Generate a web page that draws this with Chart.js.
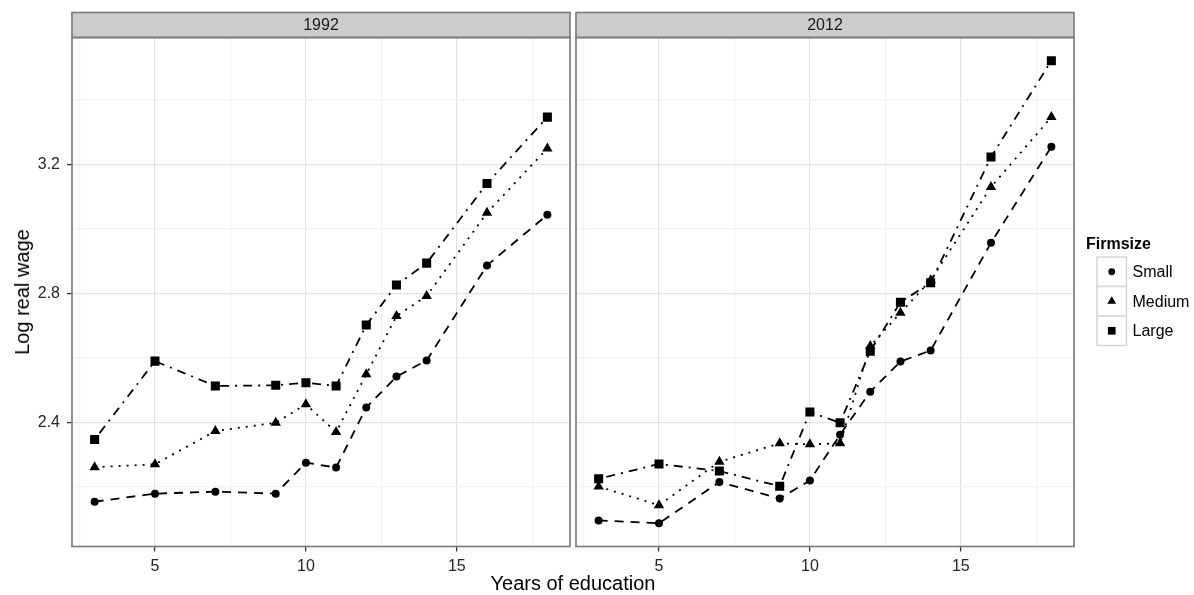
<!DOCTYPE html>
<html lang="en">
<head>
  <meta charset="UTF-8">
  <title>Log real wage by years of education</title>
  <script src="https://cdn.jsdelivr.net/npm/chart.js@4.4.1/dist/chart.umd.min.js"></script>
  <style>
    html, body {
      margin: 0;
      padding: 0;
      background: #fff;
    }

    body {
      position: relative;
      width: 1194px;
      height: 595px;
      overflow: hidden;
      font-family: 'Liberation Sans', Arial, sans-serif;
    }

    .panel {
      position: absolute;
      top: 0;
      height: 595px;
    }

    #panel1992 { left: 0; width: 572px; }
    #panel2012 { left: 574px; width: 620px; }

    .axis-title {
      position: absolute;
      font-size: 20px;
      line-height: 20px;
      color: #000;
      white-space: nowrap;
    }

    #xTitle {
      left: 0;
      width: 1146px;
      top: 573px;
      text-align: center;
    }

    #yTitle {
      left: 22px;
      top: 292px;
      transform: translate(-50%, -50%) rotate(-90deg);
    }
  </style>
</head>
<body>
<div class="panel" id="panel1992"><canvas id="chart1992"></canvas></div>
<div class="panel" id="panel2012"><canvas id="chart2012"></canvas></div>
<div class="axis-title" id="xTitle">Years of education</div>
<div class="axis-title" id="yTitle">Log real wage</div>

<script>
  // years of education on the x axis
  const years = [3, 5, 7, 9, 10, 11, 12, 13, 14, 16, 18];

  // log real wage by firm size, 1992
  const small1992  = [2.154, 2.179, 2.185, 2.179, 2.275, 2.260, 2.446, 2.542, 2.592, 2.887, 3.044];
  const medium1992 = [2.261, 2.270, 2.373, 2.399, 2.456, 2.370, 2.549, 2.730, 2.792, 3.050, 3.250];
  const large1992  = [2.347, 2.590, 2.513, 2.515, 2.523, 2.513, 2.702, 2.826, 2.894, 3.141, 3.347];

  // log real wage by firm size, 2012
  const small2012  = [2.096, 2.087, 2.215, 2.164, 2.220, 2.362, 2.495, 2.589, 2.623, 2.957, 3.255];
  const medium2012 = [2.201, 2.143, 2.278, 2.335, 2.332, 2.335, 2.637, 2.740, 2.841, 3.130, 3.347];
  const large2012  = [2.225, 2.271, 2.249, 2.202, 2.432, 2.399, 2.621, 2.773, 2.833, 3.223, 3.522];

  const seriesNames = ['Small', 'Medium', 'Large'];
  const legendTitle = 'Firmsize';

  // gridlines: labelled (major) and unlabelled (minor)
  const xMajor = [5, 10, 15];
  const xMinor = [2.5, 7.5, 12.5, 17.5];
  const yMajor = [2.4, 2.8, 3.2];
  const yMinor = [2.2, 2.6, 3.0, 3.4];

  // look of each series: point shape and line dash
  const seriesStyle = {
    Small:  { pointStyle: 'circle',   radius: 4.0, dash: [9, 7] },
    Medium: { pointStyle: 'triangle', radius: 6.0, dash: [2, 6] },
    Large:  { pointStyle: 'rect',     radius: 6.4, dash: [2, 6, 9, 6] }
  };

  const FONT = "'Liberation Sans', Arial, sans-serif";
  const STRIP_H = 25;

  function isOn(v, list) {
    return list.some(m => Math.abs(m - v) < 1e-6);
  }

  function makeDatasets(values) {
    return seriesNames.map((name, k) => {
      const st = seriesStyle[name];
      return {
        label: name,
        data: years.map((x, i) => ({x: x, y: values[k][i]})),
        borderColor: '#000',
        borderWidth: 1.8,
        borderDash: st.dash,
        backgroundColor: '#000',
        pointStyle: st.pointStyle,
        pointRadius: st.radius,
        pointBackgroundColor: '#000',
        pointBorderWidth: 0,
        tension: 0
      };
    });
  }

  // grey strip with the year above each panel, plus the panel border
  const panelFrame = {
    id: 'panelFrame',
    afterDraw(chart, args, opts) {
      const {ctx, chartArea: a} = chart;
      const w = a.right - a.left;
      ctx.save();
      ctx.fillStyle = '#CCCCCC';
      ctx.fillRect(a.left, a.top - STRIP_H, w, STRIP_H);
      ctx.strokeStyle = '#7F7F7F';
      ctx.lineWidth = 1.7;
      ctx.strokeRect(a.left, a.top - STRIP_H, w, STRIP_H);
      ctx.strokeRect(a.left, a.top, w, a.bottom - a.top);
      ctx.fillStyle = '#1A1A1A';
      ctx.font = '16px ' + FONT;
      ctx.textAlign = 'center';
      ctx.textBaseline = 'middle';
      ctx.fillText(opts.title, (a.left + a.right) / 2, a.top - STRIP_H / 2 + 1);
      ctx.restore();
    }
  };

  // key boxes for firm size, to the right of the 2012 panel
  const firmLegend = {
    id: 'firmLegend',
    afterDraw(chart) {
      const ctx = chart.ctx;
      const x0 = 1097 - 574, y0 = 257, box = 29.5;
      ctx.save();
      ctx.fillStyle = '#000';
      ctx.font = 'bold 16px ' + FONT;
      ctx.textAlign = 'left';
      ctx.textBaseline = 'alphabetic';
      ctx.fillText(legendTitle, x0 - 11, y0 - 8);
      seriesNames.forEach((name, k) => {
        const top = y0 + k * box;
        ctx.fillStyle = '#fff';
        ctx.fillRect(x0, top, box, box);
        ctx.strokeStyle = '#D6D6D6';
        ctx.lineWidth = 1.5;
        ctx.strokeRect(x0, top, box, box);
        const st = seriesStyle[name];
        ctx.fillStyle = '#000';
        Chart.helpers.drawPoint(ctx, {
          pointStyle: st.pointStyle,
          radius: st.radius * 0.85,
          rotation: 0,
          borderWidth: 0
        }, x0 + box / 2, top + box / 2);
        ctx.font = '16px ' + FONT;
        ctx.textBaseline = 'middle';
        ctx.fillText(name, x0 + box + 6, top + box / 2 + 1);
      });
      ctx.restore();
    }
  };

  function gridColor(major) {
    return c => (c.tick && isOn(c.tick.value, major)) ? '#E2E2E2' : '#F2F2F2';
  }

  function tickColor(major) {
    return c => (c.tick && isOn(c.tick.value, major)) ? '#333333' : 'rgba(0,0,0,0)';
  }

  function createPanel(canvasId, title, values, showY, rightPad, extraPlugins) {
    const ctx = document.getElementById(canvasId).getContext('2d');
    return new Chart(ctx, {
      type: 'line',
      data: {datasets: makeDatasets(values)},
      plugins: [panelFrame].concat(extraPlugins),
      options: {
        responsive: true,
        maintainAspectRatio: false,
        animation: false,
        events: [],
        layout: {
          autoPadding: false,
          padding: {top: 37.5, right: rightPad, bottom: 0, left: 0}
        },
        plugins: {
          legend: {display: false},
          tooltip: {enabled: false},
          panelFrame: {title: title}
        },
        scales: {
          x: {
            type: 'linear',
            min: 2.25,
            max: 18.75,
            afterBuildTicks: s => {
              s.ticks = xMinor.concat(xMajor).sort((a, b) => a - b).map(v => ({value: v}));
            },
            afterFit: s => { s.height = 48.5; },
            border: {display: false},
            grid: {
              color: gridColor(xMajor),
              lineWidth: 1.2,
              drawTicks: true,
              tickLength: 5,
              tickWidth: 1.3,
              tickColor: tickColor(xMajor)
            },
            ticks: {
              autoSkip: false,
              maxRotation: 0,
              padding: 5,
              color: '#262626',
              font: {family: FONT, size: 16},
              callback: v => isOn(v, xMajor) ? String(v) : ''
            }
          },
          y: {
            type: 'linear',
            min: 2.015,
            max: 3.594,
            afterBuildTicks: s => {
              s.ticks = yMinor.concat(yMajor).sort((a, b) => a - b).map(v => ({value: v}));
            },
            afterFit: s => { s.width = showY ? 72 : 2; },
            border: {display: false},
            grid: {
              color: gridColor(yMajor),
              lineWidth: 1.2,
              drawTicks: showY,
              tickLength: 5,
              tickWidth: 1.3,
              tickColor: tickColor(yMajor)
            },
            ticks: {
              display: showY,
              autoSkip: false,
              padding: 7,
              color: '#262626',
              font: {family: FONT, size: 16},
              callback: v => isOn(v, yMajor) ? v.toFixed(1) : ''
            }
          }
        }
      }
    });
  }

  window.addEventListener('DOMContentLoaded', () => {
    createPanel('chart1992', '1992', [small1992, medium1992, large1992], true, 2, []);
    createPanel('chart2012', '2012', [small2012, medium2012, large2012], false, 120, [firmLegend]);
  });
</script>
</body>
</html>
